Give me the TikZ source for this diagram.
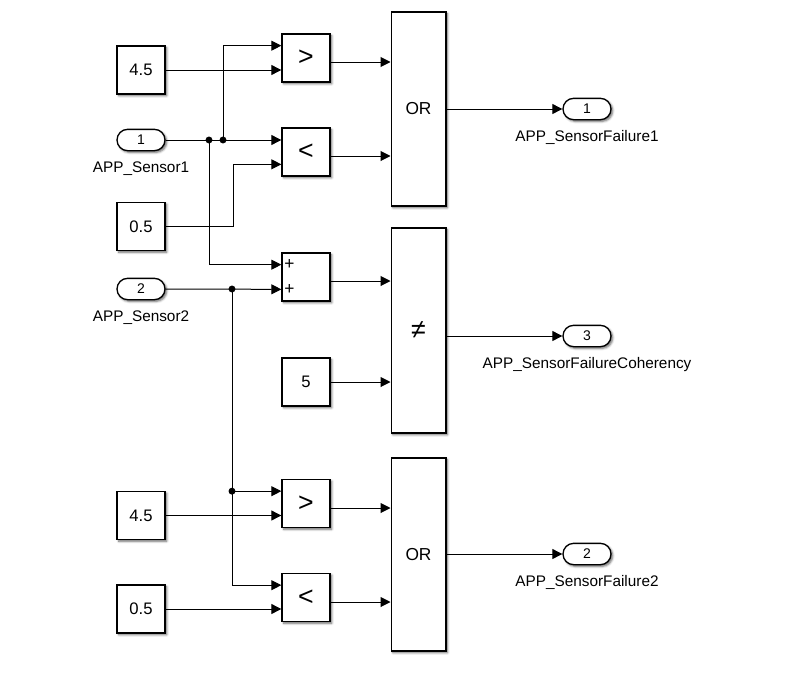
\documentclass[tikz,border=0pt]{standalone}
\usepackage{fontspec}
\setmainfont{Liberation Sans}
\usetikzlibrary{arrows.meta,shapes.misc,shadows.blur,calc,positioning}

\begin{document}
\begin{tikzpicture}[x=0.75pt, y=-0.75pt, line width=0.75pt,
		>={Triangle[length=7.5pt, width=7.5pt]}]
		% --- Estilos ---
		\tikzset{
			block/.style={draw, fill=white, line width=1pt, minimum width=36pt, minimum height=36pt, inner sep=0pt,
				font=\fontsize{12.5}{14}\selectfont,
				blur shadow={shadow xshift=1.3pt, shadow yshift=-1.3pt, shadow blur radius=1.6pt, shadow opacity=60}},
			relop/.style={block, font=\fontsize{20}{22}\selectfont},
			logicbox/.style={block, minimum width=41pt, font=\fontsize{13}{15}\selectfont},
			port/.style={block, rounded rectangle, minimum width=36pt, minimum height=16pt, font=\fontsize{10.5}{12}\selectfont},
			portlabel/.style={font=\fontsize{11.5}{13}\selectfont, inner sep=1pt},
			junction/.style={circle, fill, inner sep=0pt, minimum size=5.2pt},
			sign/.style={font=\fontsize{13}{13}\selectfont, inner sep=0pt}
		}
		
		% --- Marco (proporciones de la imagen) ---
		\useasboundingbox (0,0) rectangle (800,682);
		
		% --- Entradas y constantes ---
		\node[block] (cA) at (141,70) {4.5};
		\node[port] (inA) at (141,140) {1};
		\node[portlabel, below=6.5pt of inA] (inAlbl) {APP\_Sensor1};
		\node[block] (cB) at (141,226.5) {0.5};
		\node[port] (inB) at (141,289) {2};
		\node[portlabel, below=6.5pt of inB] (inBlbl) {APP\_Sensor2};
		\node[block] (cD) at (141,515.5) {4.5};
		\node[block] (cE) at (141,609) {0.5};
		
		% --- Comparadores, suma y constante ---
		\node[relop] (gtA) at (306,58) {>};
		\node[relop] (ltA) at (306,152) {<};
		\node[block] (sumA) at (306,277) {};
		\node[block] (cC) at (306,382) {5};
		\node[relop] (gtB) at (306,503.5) {>};
		\node[relop] (ltB) at (306,597.5) {<};
		
		% --- Bloques lógicos ---
		\node[logicbox, minimum height=145.5pt] (orA) at (418.5,109) {OR};
		\node[logicbox, minimum height=153.75pt, font=\fontsize{20}{22}\selectfont] (neqA) at (418.5,330.5) {≠};
		\node[logicbox, minimum height=144.75pt] (orB) at (418.5,554.5) {OR};
		
		% --- Salidas ---
		\node[port] (outA) at (587,109) {1};
		\node[portlabel, below=6.5pt of outA] (outAlbl) {APP\_SensorFailure1};
		\node[port] (outC) at (587,336) {3};
		\node[portlabel, below=6.5pt of outC] (outClbl) {APP\_SensorFailureCoherency};
		\node[port] (outB) at (587,554) {2};
		\node[portlabel, below=6.5pt of outB] (outBlbl) {APP\_SensorFailure2};
		
		% --- Puertos de entrada de los bloques ---
		\coordinate (gtAin1) at ($(gtA.north west)!0.25!(gtA.south west)$);
		\coordinate (ltAin2) at ($(ltA.north west)!0.75!(ltA.south west)$);
		\coordinate (sumAin1) at ($(sumA.north west)!0.25!(sumA.south west)$);
		\coordinate (sumAin2) at ($(sumA.north west)!0.75!(sumA.south west)$);
		\coordinate (gtBin1) at ($(gtB.north west)!0.25!(gtB.south west)$);
		\coordinate (ltBin1) at ($(ltB.north west)!0.25!(ltB.south west)$);
		\coordinate (orAin1) at ($(orA.west)+(0,-47)$);
		\coordinate (orAin2) at ($(orA.west)+(0,47)$);
		\coordinate (neqAin1) at ($(neqA.west)+(0,-49.5)$);
		\coordinate (orBin1) at ($(orB.west)+(0,-46.5)$);
		\coordinate (orBin2) at ($(orB.west)+(0,47.5)$);
		
		% Signos de la suma
		\node[sign] (sumAp1) at ($(sumAin1)+(8,0)$) {+};
		\node[sign] (sumAp2) at ($(sumAin2)+(8,0)$) {+};
		
		% --- Puntos de bifurcación ---
		\node[junction] (jA1) at (209,140) {};
		\node[junction] (jA2) at (223,140) {};
		\node[junction] (jB1) at (232,289) {};
		\node[junction] (jB2) at (jB1 |- gtBin1) {};
		
		% --- Conexiones ---
		\draw[->] (cA.east) -- (gtA.west |- cA.east);
		\draw[->] (jA2.center) |- (gtAin1);
		\draw[->] (inA.east) -- (ltA.west |- inA.east);
		\draw[->] (cB.east) -- ++(68,0) |- (ltAin2);
		\draw[->] (jA1.center) |- (sumAin1);
		\draw[->] (inB.east) -- (sumAin2);
		\draw (jB1.center) -- (jB2.center);
		\draw[->] (jB2.center) -- (gtBin1);
		\draw[->] (jB2.center) |- (ltBin1);
		\draw[->] (cD.east) -- (gtB.west |- cD.east);
		\draw[->] (cE.east) -- (ltB.west |- cE.east);
		\draw[->] (cC.east) -- (neqA.west |- cC.east);
		
		\draw[->] (gtA.east |- orAin1) -- (orAin1);
		\draw[->] (ltA.east |- orAin2) -- (orAin2);
		\draw[->] (sumA.east |- neqAin1) -- (neqAin1);
		\draw[->] (gtB.east |- orBin1) -- (orBin1);
		\draw[->] (ltB.east |- orBin2) -- (orBin2);
		
		\draw[->] (orA.east |- outA) -- (outA.west);
		\draw[->] (neqA.east |- outC) -- (outC.west);
		\draw[->] (orB.east |- outB) -- (outB.west);
		
	\end{tikzpicture}
\end{document}
